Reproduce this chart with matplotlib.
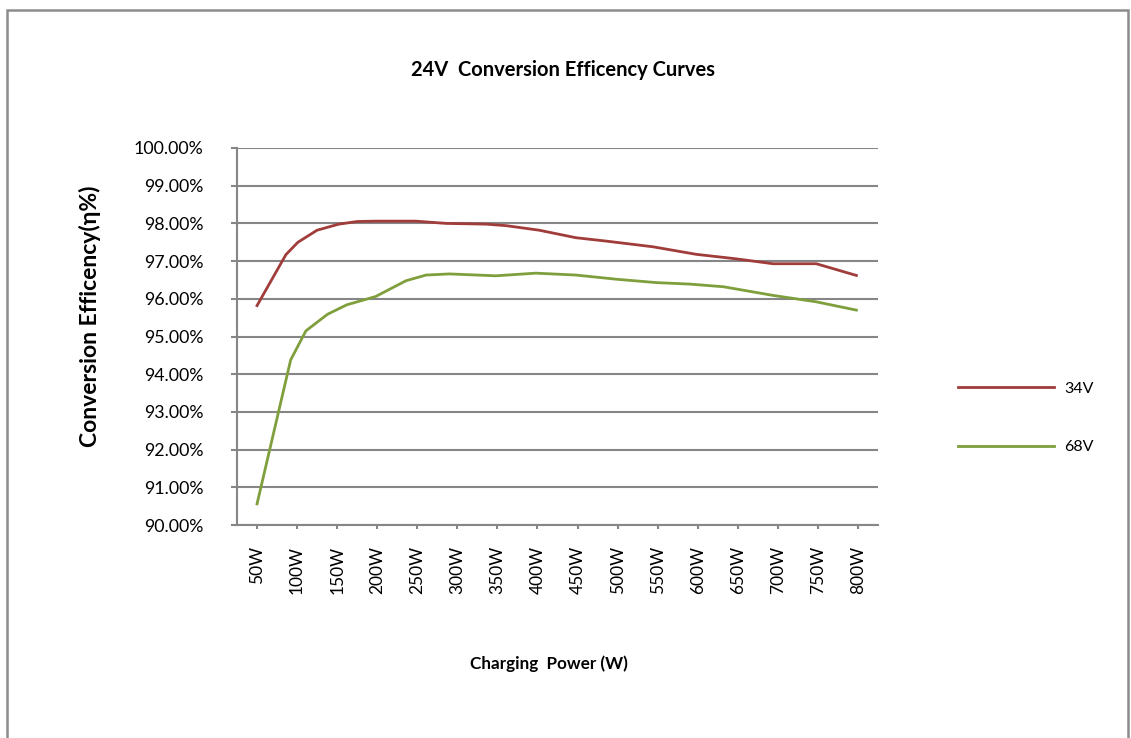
import matplotlib.pyplot as plt
from matplotlib.patches import Rectangle
from matplotlib.ticker import FuncFormatter

# --- Dados ---
power_34v = [50, 86, 101, 125, 152, 175, 198, 248, 286, 336, 361, 402, 448, 486, 544, 598, 648, 694, 748, 798]
eff_34v = [95.82, 97.17, 97.50, 97.82, 97.98, 98.05, 98.06, 98.06, 98.00, 97.98, 97.94, 97.82, 97.62,
           97.53, 97.38, 97.18, 97.06, 96.93, 96.93, 96.62]

power_68v = [50, 92, 111, 138, 162, 198, 236, 261, 290, 348, 398, 448, 498, 548, 590, 632, 694, 748, 798]
eff_68v = [90.56, 94.38, 95.15, 95.59, 95.84, 96.06, 96.48, 96.63, 96.66, 96.61, 96.68, 96.63, 96.52,
           96.43, 96.39, 96.32, 96.09, 95.92, 95.70]

x_ticks = list(range(50, 801, 50))
x_labels = [f"{v}W" for v in x_ticks]
y_ticks = list(range(90, 101))

plt.rcParams['font.family'] = ['Lato', 'DejaVu Sans']

W, H = 1131, 738
fig = plt.figure(figsize=(W / 100, H / 100), dpi=100)
ax = fig.add_axes([237 / W, 1 - 525 / H, (878 - 237) / W, (525 - 148) / H])

grid_c = '#868686'
ax.plot(power_34v, eff_34v, color='#A03C3A', linewidth=2.0, label='34V', zorder=3)
ax.plot(power_68v, eff_68v, color='#7F9F3C', linewidth=2.0, label='68V', zorder=3)

ax.set_xlim(25, 825)
ax.set_ylim(90, 100)
ax.set_yticks(y_ticks)
ax.yaxis.set_major_formatter(FuncFormatter(lambda v, p: f"{v:.2f}%"))
ax.set_xticks(x_ticks)
ax.set_xticklabels(x_labels, rotation=90)

ax.grid(axis='y', color=grid_c, linewidth=1.5)
ax.set_axisbelow(True)
for s in ['top', 'right']:
    ax.spines[s].set_visible(False)
for s in ['left', 'bottom']:
    ax.spines[s].set_color(grid_c)
    ax.spines[s].set_linewidth(1.5)

ax.tick_params(axis='y', length=4, width=1.5, color=grid_c, pad=20, labelsize=12.8)
ax.tick_params(axis='x', length=3, width=1.5, color=grid_c, pad=12, labelsize=12.5)

fig.text(563 / W, 1 - 70 / H, "24V  Conversion Efficency Curves", ha='center', va='center',
         fontsize=14.5, fontweight='bold')
fig.text(90 / W, 1 - 316 / H, "Conversion Efficency(η%)", ha='center', va='center',
         rotation=90, fontsize=16.5, fontweight='bold')
fig.text(549 / W, 1 - 664 / H, "Charging  Power (W)", ha='center', va='center',
         fontsize=12.3, fontweight='bold')

fig.legend(loc='center left', bbox_to_anchor=(944 / W, 1 - 418 / H), frameon=False,
           fontsize=11.5, handlelength=6.0, handletextpad=0.6, labelspacing=2.75)

# Borda do gráfico
fig.add_artist(Rectangle((7 / W, -0.05), (1128 - 7) / W, 1.05 - 10 / H,
                         transform=fig.transFigure, fill=False, edgecolor='#8C8C8C', linewidth=1.8))

plt.savefig('out.png', dpi=100)
plt.close()
